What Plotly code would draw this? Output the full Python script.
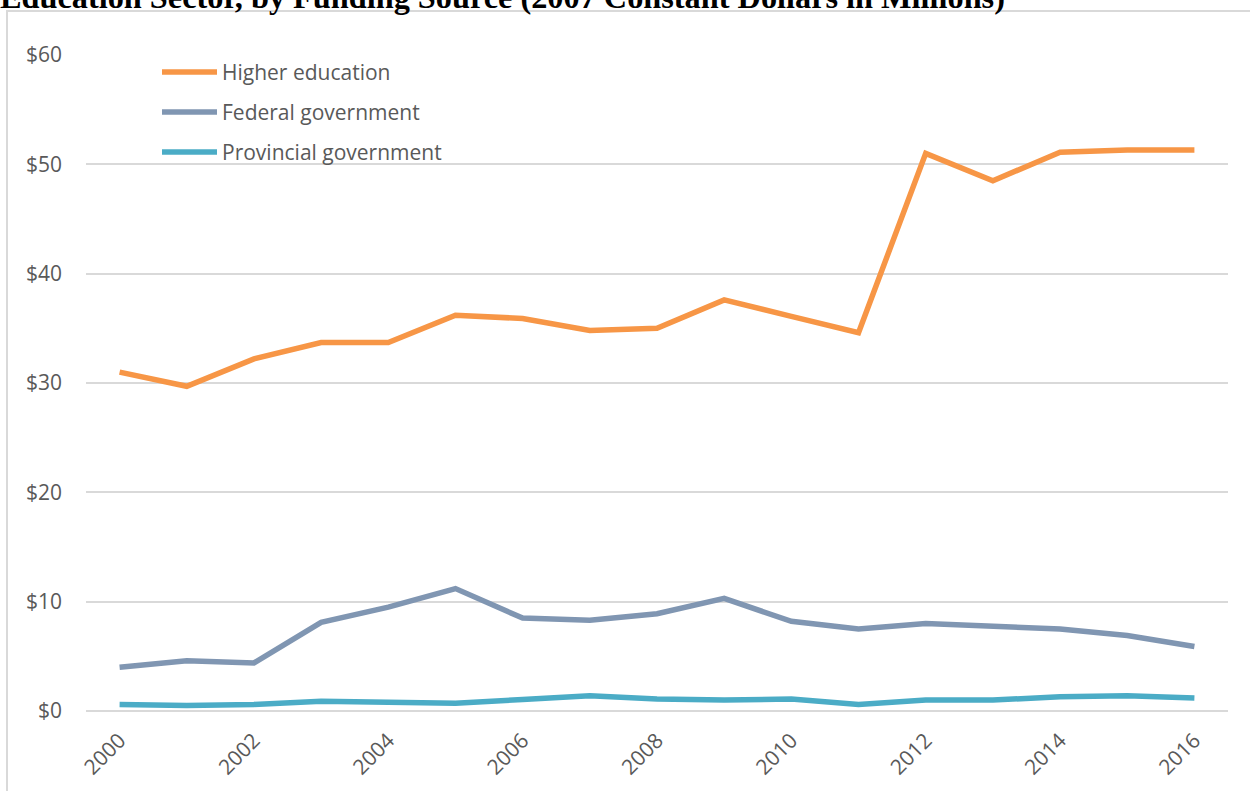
import plotly.graph_objects as go

# Funding of R&D performed in the higher education sector, 2007 constant dollars (millions)
years = list(range(2000, 2017))
higher_education = [31.0, 29.7, 32.2, 33.7, 33.7, 36.2, 35.9, 34.8, 35.0, 37.6,
                    36.1, 34.6, 51.0, 48.5, 51.1, 51.3, 51.3]
federal_government = [4.0, 4.6, 4.4, 8.1, 9.5, 11.2, 8.5, 8.3, 8.9, 10.3,
                      8.2, 7.5, 8.0, 7.7, 7.5, 6.9, 5.9]
provincial_government = [0.6, 0.5, 0.6, 0.9, 0.8, 0.7, 1.05, 1.4, 1.1, 1.0,
                         1.1, 0.6, 1.0, 1.0, 1.3, 1.4, 1.2]

series_names = ["Higher education", "Federal government", "Provincial government"]
series_values = [higher_education, federal_government, provincial_government]
series_colors = ["#F79646", "#8096B2", "#4BACC6"]

y_tickvals = [0, 10, 20, 30, 40, 50, 60]
y_ticktext = ["$0", "$10", "$20", "$30", "$40", "$50", "$60"]
x_tickvals = list(range(2000, 2017, 2))

title_text = "Education Sector, by Funding Source (2007 Constant Dollars in Millions)"

W, H = 1250, 791
L, R, T, B = 86, 22, 55, 80
plot_w = W - L - R
plot_h = H - T - B


def px_x(px):
    return (px - L) / plot_w


def px_y(py):
    return (H - B - py) / plot_h


text_font = dict(family="Open Sans, Lato, sans-serif", size=21, color="#595959")

fig = go.Figure()
for name, vals, color in zip(series_names, series_values, series_colors):
    fig.add_trace(go.Scatter(
        x=years, y=vals, name=name, mode="lines",
        line=dict(color=color, width=5.5),
        showlegend=False,
    ))

shapes = [
    # outer chart frame
    dict(type="rect", xref="paper", yref="paper",
         x0=px_x(7), x1=px_x(1300), y0=px_y(840), y1=px_y(11),
         line=dict(color="#D9D9D9", width=2), layer="below"),
]
annotations = [
    dict(text=f"<b>{title_text}</b>", xref="paper", yref="paper",
         x=px_x(-2), y=px_y(17), xanchor="left", yanchor="bottom",
         showarrow=False,
         font=dict(family="Liberation Serif, Times New Roman, serif", size=32.3, color="#000000")),
]

# legend keys in the upper left of the plot area
legend_rows = [72, 112, 152]
for name, color, row in zip(series_names, series_colors, legend_rows):
    shapes.append(dict(type="line", xref="paper", yref="paper",
                       x0=px_x(162), x1=px_x(217), y0=px_y(row), y1=px_y(row),
                       line=dict(color=color, width=5.5)))
    annotations.append(dict(text=name, xref="paper", yref="paper",
                            x=px_x(220), y=px_y(row), xanchor="left", yanchor="middle",
                            showarrow=False, font=text_font))

fig.update_layout(
    width=W, height=H,
    margin=dict(l=L, r=R, t=T, b=B),
    paper_bgcolor="white", plot_bgcolor="white",
    shapes=shapes, annotations=annotations,
    showlegend=False,
)
fig.update_xaxes(
    range=[1999.5, 2016.5], tickvals=x_tickvals, tickangle=-45,
    showgrid=False, zeroline=False, showline=False, ticks="",
    ticklabelstandoff=12, tickfont=text_font,
)
fig.update_yaxes(
    range=[0, 60], tickvals=y_tickvals, ticktext=y_ticktext,
    showgrid=True, gridcolor="#D9D9D9", gridwidth=2,
    zeroline=True, zerolinecolor="#D9D9D9", zerolinewidth=2,
    showline=False, ticks="", ticklabelstandoff=23,
    tickfont=text_font,
)

fig.write_html("out.html")
